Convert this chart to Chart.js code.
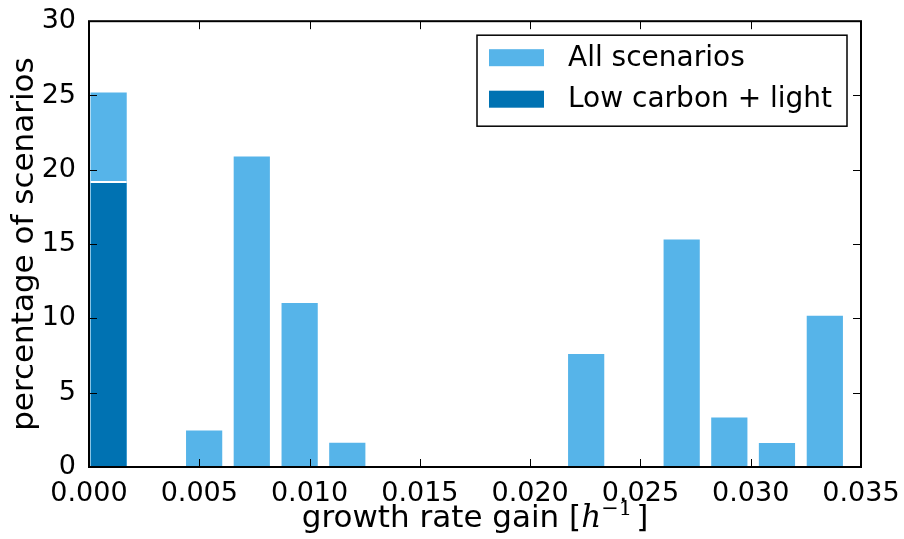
<!DOCTYPE html>
<html>
<head>
<meta charset="utf-8">
<script src="https://cdn.jsdelivr.net/npm/chart.js@4/dist/chart.umd.min.js"></script>
<style>
  html, body { margin: 0; padding: 0; background: #fff; }
  #wrap { position: relative; width: 904px; height: 539px; }
</style>
</head>
<body>
<div id="wrap"><canvas id="histChart" width="904" height="539"></canvas></div>
<script>
// 히스토그램 구간 중심 (growth rate gain, h^-1)
const binCenters = [0.00089, 0.00305, 0.00522, 0.00738, 0.00955, 0.01171, 0.01388, 0.01604,
                    0.01821, 0.02037, 0.02254, 0.02470, 0.02687, 0.02903, 0.03119, 0.03336];

// 시나리오 비율 (%)
const allScenarios   = [25.2, 0, 2.46, 20.9, 11.04, 1.63, 0, 0, 0, 0, 7.6, 0, 15.31, 3.33, 1.61, 10.17];
const lowCarbonLight = [19.25, 0, 0, 0, 0, 0, 0, 0, 0, 0, 0, 0, 0, 0, 0, 0];

// 축 눈금
const xTicks = [0, 0.005, 0.01, 0.015, 0.02, 0.025, 0.03, 0.035];
const yTicks = [0, 5, 10, 15, 20, 25, 30];

const seriesLabels = ['All scenarios', 'Low carbon + light'];
const seriesColors = ['#56B4E9', '#0072B2'];

const FONT = 'DejaVu Sans';

// 안쪽 눈금 + 테두리
const frameTicks = {
    id: 'frameTicks',
    afterDatasetsDraw(chart) {
        const { ctx, chartArea: a, scales: { x, y } } = chart;
        const len = 8;
        ctx.save();
        ctx.strokeStyle = '#000';
        ctx.lineWidth = 1;
        ctx.beginPath();
        x.ticks.forEach((t, i) => {
            const px = Math.round(x.getPixelForTick(i)) + 0.5;
            ctx.moveTo(px, a.bottom); ctx.lineTo(px, a.bottom - len);
            ctx.moveTo(px, a.top); ctx.lineTo(px, a.top + len);
        });
        y.ticks.forEach((t, i) => {
            const py = Math.round(y.getPixelForTick(i)) + 0.5;
            ctx.moveTo(a.left, py); ctx.lineTo(a.left + len, py);
            ctx.moveTo(a.right, py); ctx.lineTo(a.right - len, py);
        });
        ctx.stroke();
        ctx.lineWidth = 2;
        ctx.strokeRect(a.left, a.top, a.right - a.left, a.bottom - a.top);
        ctx.restore();
    }
};

// 범례 박스 (오른쪽 위)
const boxLegend = {
    id: 'boxLegend',
    afterDraw(chart) {
        const { ctx, chartArea: a } = chart;
        const w = 370, h = 91;
        const left = a.right - 14 - w;
        const top = a.top + 14;
        ctx.save();
        ctx.fillStyle = '#fff';
        ctx.fillRect(left, top, w, h);
        ctx.strokeStyle = '#000';
        ctx.lineWidth = 1.5;
        ctx.strokeRect(left, top, w, h);
        ctx.font = `28px "${FONT}"`;
        ctx.textBaseline = 'middle';
        chart.data.datasets.forEach((ds, i) => {
            const cy = top + 22.5 + i * 41.5;
            ctx.fillStyle = ds.backgroundColor;
            ctx.fillRect(left + 12, cy - 8.5, 55, 17);
            ctx.fillStyle = '#000';
            ctx.fillText(ds.label, left + 91, cy + 1);
        });
        ctx.restore();
    }
};

// x축 제목 (위첨자 포함)
const xTitle = {
    id: 'xTitle',
    afterDraw(chart) {
        const { ctx, chartArea: a } = chart;
        const parts = [
            { t: 'growth rate gain [', f: `31px "${FONT}"`, dy: 0 },
            { t: 'h', f: `italic 31px "DejaVu Serif"`, dy: 0 },
            { t: '\u22121', f: `21px "DejaVu Serif"`, dy: -12 },
            { t: ']', f: `31px "${FONT}"`, dy: 0 }
        ];
        ctx.save();
        ctx.fillStyle = '#000';
        ctx.textBaseline = 'alphabetic';
        let total = 0;
        parts.forEach(p => { ctx.font = p.f; p.w = ctx.measureText(p.t).width; total += p.w; });
        total += 4;
        let x = (a.left + a.right) / 2 - total / 2;
        const base = 527;
        parts.forEach((p, i) => {
            ctx.font = p.f;
            ctx.fillText(p.t, x, base + p.dy);
            x += p.w + (i === 2 ? 4 : 0);
        });
        ctx.restore();
    }
};

const ctx = document.getElementById('histChart').getContext('2d');
const histChart = new Chart(ctx, {
    type: 'bar',
    data: {
        datasets: [
            {
                label: seriesLabels[0],
                data: binCenters.map((c, i) => ({ x: c, y: allScenarios[i] })),
                backgroundColor: seriesColors[0],
                borderWidth: 0,
                order: 1
            },
            {
                label: seriesLabels[1],
                data: binCenters.map((c, i) => ({ x: c, y: lowCarbonLight[i] })),
                backgroundColor: seriesColors[1],
                borderColor: '#fff',
                borderWidth: { top: 2, left: 0, right: 0, bottom: 0 },
                borderSkipped: 'bottom',
                order: 0
            }
        ]
    },
    options: {
        responsive: false,
        animation: false,
        devicePixelRatio: 1,
        grouped: false,
        barPercentage: 0.76,
        categoryPercentage: 1.0,
        layout: { padding: { top: 19, right: 43, left: 0, bottom: 0 } },
        plugins: {
            legend: { display: false },
            tooltip: { enabled: false }
        },
        scales: {
            x: {
                type: 'linear',
                min: xTicks[0],
                max: xTicks[xTicks.length - 1],
                offset: false,
                grid: { display: false, offset: false },
                border: { display: false },
                afterBuildTicks: scale => { scale.ticks = xTicks.map(v => ({ value: v })); },
                afterFit: scale => { scale.height = 72; },
                ticks: {
                    autoSkip: false,
                    maxRotation: 0,
                    padding: 3,
                    color: '#000',
                    font: { family: FONT, size: 27 },
                    callback: v => Number(v).toFixed(3)
                }
            },
            y: {
                min: yTicks[0],
                max: yTicks[yTicks.length - 1],
                grid: { display: false },
                border: { display: false },
                afterBuildTicks: scale => { scale.ticks = yTicks.map(v => ({ value: v })); },
                afterFit: scale => { scale.width = 89; },
                ticks: {
                    padding: 5,
                    color: '#000',
                    font: { family: FONT, size: 27 },
                    callback: v => String(v)
                },
                title: {
                    display: true,
                    text: 'percentage of scenarios',
                    color: '#000',
                    font: { family: FONT, size: 31 },
                    padding: { top: 6, bottom: 0 }
                }
            }
        }
    },
    plugins: [frameTicks, boxLegend, xTitle]
});
</script>
</body>
</html>
